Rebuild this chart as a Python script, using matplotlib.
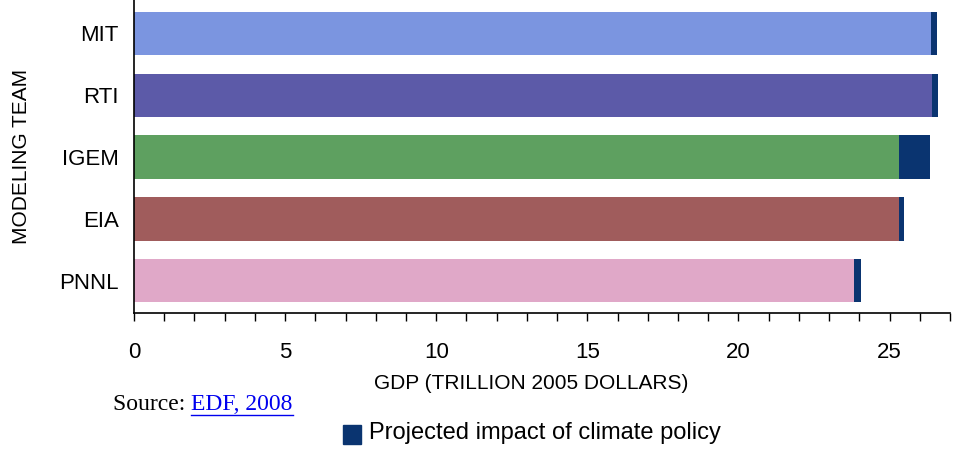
import matplotlib
matplotlib.use("Agg")
import matplotlib.pyplot as plt
import matplotlib.patches as mpatches

teams = ["MIT", "RTI", "IGEM", "EIA", "PNNL"]
gdp_with_policy = [26.38, 26.41, 25.32, 25.32, 23.84]
policy_impact = [0.20, 0.20, 1.02, 0.15, 0.23]
bar_colors = ["#7b95e0", "#5c5aa8", "#5ea060", "#a05c5c", "#e0a8c8"]
impact_color = "#0a3470"
xticks = [0, 5, 10, 15, 20, 25]

sans = ["Liberation Sans Narrow", "Liberation Sans", "DejaVu Sans"]
plt.rcParams["font.family"] = sans

fig = plt.figure(figsize=(9.62, 4.51), dpi=100)
ax = fig.add_axes([0.1393, 0.306, 0.8482, 0.694])

ypos = list(range(len(teams)))
ax.barh(ypos, gdp_with_policy, height=0.7, color=bar_colors, edgecolor="none")
ax.barh(ypos, policy_impact, left=gdp_with_policy, height=0.7,
        color=impact_color, edgecolor="none")

ax.set_xlim(0, 27.0)
ax.set_ylim(4.52, -0.54)
ax.set_yticks(ypos)
ax.set_yticklabels(teams, fontsize=16)
ax.set_xticks(xticks)
ax.set_xticks(range(0, 28), minor=True)
ax.set_xticklabels([str(t) for t in xticks], fontsize=16)
ax.tick_params(axis="y", length=0, pad=11)
ax.tick_params(axis="x", which="both", direction="out", length=6, width=1, pad=15)
for s in ["top", "right"]:
    ax.spines[s].set_visible(False)
ax.spines["left"].set_linewidth(1.2)
ax.spines["bottom"].set_linewidth(1.2)

ax.set_ylabel("MODELING TEAM", fontsize=15)
ax.yaxis.set_label_coords(-0.126, 0.5)
fig.text(0.552, 0.150, "GDP (TRILLION 2005 DOLLARS)", fontsize=15,
         ha="center", va="center")

# Legend
fig.patches.append(mpatches.Rectangle((343 / 962, 1 - 444 / 451), 18 / 962, 19 / 451,
                                      transform=fig.transFigure,
                                      color=impact_color))
fig.text(369 / 962, 1 - 433 / 451, "Projected impact of climate policy",
         fontsize=17, ha="left", va="center")

# Source
serif = ["Liberation Serif", "DejaVu Serif"]
t1 = fig.text(113 / 962, 1 - 405 / 451, "Source: ", fontsize=17, family=serif,
              ha="left", va="center")
fig.canvas.draw()
bb = t1.get_window_extent()
x2 = bb.x1 / fig.bbox.width
t2 = fig.text(x2, 1 - 405 / 451, "EDF, 2008", fontsize=17, family=serif,
              ha="left", va="center", color="#0000ee")
fig.canvas.draw()
bb2 = t2.get_window_extent()
yline = (bb2.y0 + 1) / fig.bbox.height
fig.add_artist(plt.Line2D([bb2.x0 / fig.bbox.width, bb2.x1 / fig.bbox.width],
                          [yline, yline], transform=fig.transFigure,
                          color="#0000ee", linewidth=1))

fig.savefig("out.png", dpi=100)
